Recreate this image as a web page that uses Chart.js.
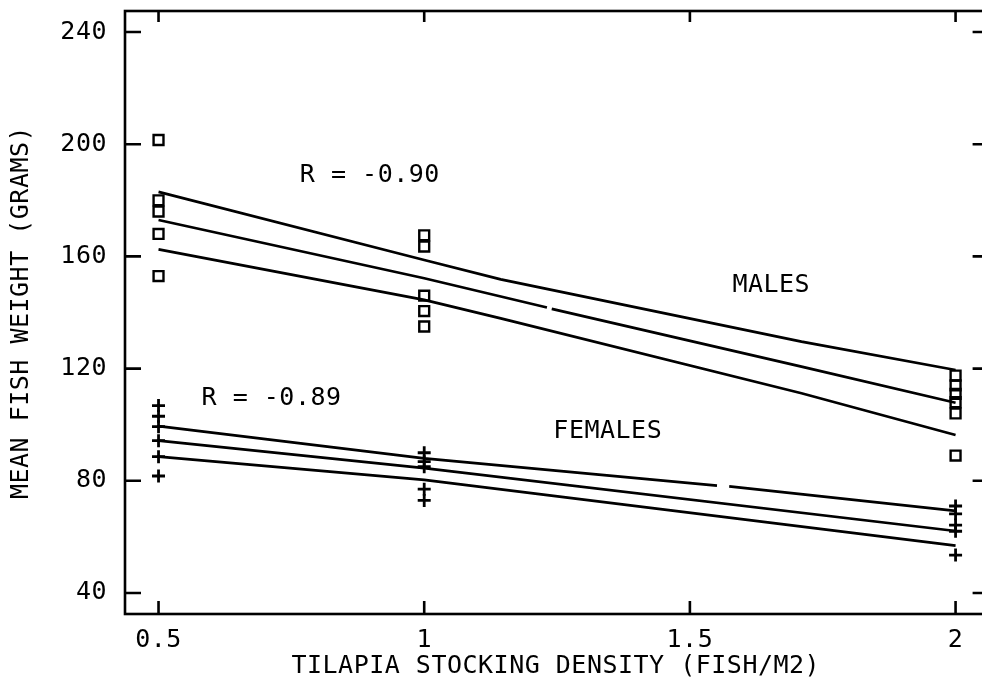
<!DOCTYPE html>
<html>
<head>
<meta charset="utf-8">
<title>Tilapia stocking density vs mean fish weight</title>
<script src="https://cdn.jsdelivr.net/npm/chart.js@4/dist/chart.umd.min.js"></script>
<style>
  html, body { margin: 0; padding: 0; background: #fff; overflow: hidden; }
  #c { display: block; }
</style>
</head>
<body>
<canvas id="c" width="996" height="687"></canvas>
<script>
// Axis ticks
const xTicks = [0.5, 1, 1.5, 2];
const yTicks = [40, 80, 120, 160, 200, 240];

// Observed pond means (grams) by stocking density (fish/m2)
const maleDensity   = [0.5, 0.5, 0.5, 0.5, 0.5, 1, 1, 1, 1, 1, 2, 2, 2, 2, 2, 2];
const maleWeight    = [201.5, 180, 176, 168, 153, 167.5, 163.5, 146, 140.5, 135, 117.5, 114, 111, 108, 104, 89];
const femaleDensity = [0.5, 0.5, 0.5, 0.5, 0.5, 0.5, 1, 1, 1, 1, 1, 2, 2, 2, 2, 2];
const femaleWeight  = [106.8, 103, 99.3, 94.3, 88.6, 81.7, 90, 86.8, 85, 77, 73, 71, 68.2, 64.2, 62, 53.5];

// Regression lines with their confidence bands (null = pen lift)
const maleUpperX = [0.5, 1, 1.144, 1.71, 2];
const maleUpperY = [183, 158.7, 151.8, 129.6, 119.5];
const maleFitX   = [0.5, 1, 1.231, 1.235, 1.24, 1.71, 2];
const maleFitY   = [173, 152.2, 141.8, null, 141.3, 120.7, 107.8];
const maleLowerX = [0.5, 1, 1.144, 1.71, 2];
const maleLowerY = [162.5, 144.5, 137.9, 111.2, 96.3];

const femaleUpperX = [0.5, 1, 1.551, 1.56, 1.574, 2];
const femaleUpperY = [99.5, 88, 78.3, null, 78.0, 69.3];
const femaleFitX   = [0.5, 1, 2];
const femaleFitY   = [94.3, 84.5, 62.1];
const femaleLowerX = [0.5, 1, 2];
const femaleLowerY = [88.6, 80.3, 56.9];

// Text notes placed in data coordinates
const noteText = ['R = -0.90', 'MALES', 'R = -0.89', 'FEMALES'];
const noteX    = [0.766, 1.58, 0.581, 1.243];
const noteY    = [189, 149.8, 109.5, 97.5];

const FONT = 'DejaVu Sans Mono';
const INK = '#000';

const pts = (xs, ys) => xs.map((x, i) => ({ x: x, y: ys[i] }));

function lineSet(xs, ys) {
  return {
    type: 'line',
    data: pts(xs, ys),
    borderColor: INK,
    borderWidth: 2.7,
    pointRadius: 0,
    fill: false,
    spanGaps: false,
    tension: 0
  };
}

// Letter spacing for the plotter-style lettering
const spacing = {
  id: 'spacing',
  beforeLayout(chart) { chart.ctx.letterSpacing = '0.5px'; },
  beforeDraw(chart) { chart.ctx.letterSpacing = '0.5px'; }
};

// Closed frame with inward tick marks on all four sides
const frame = {
  id: 'frame',
  afterDatasetsDraw(chart) {
    const { ctx, chartArea: a, scales } = chart;
    ctx.save();
    ctx.strokeStyle = INK;
    ctx.lineWidth = 2.6;
    ctx.strokeRect(a.left, a.top, a.right - a.left, a.bottom - a.top);
    ctx.beginPath();
    xTicks.forEach(v => {
      const px = scales.x.getPixelForValue(v);
      ctx.moveTo(px, a.bottom); ctx.lineTo(px, a.bottom - 13);
      ctx.moveTo(px, a.top);    ctx.lineTo(px, a.top + 11);
    });
    yTicks.forEach(v => {
      const py = scales.y.getPixelForValue(v);
      ctx.moveTo(a.left, py);  ctx.lineTo(a.left + 16, py);
      ctx.moveTo(a.right, py); ctx.lineTo(a.right - 14, py);
    });
    ctx.stroke();

    ctx.fillStyle = INK;
    ctx.font = '25px "' + FONT + '"';
    ctx.textAlign = 'left';
    ctx.textBaseline = 'middle';
    noteText.forEach((t, i) => {
      ctx.fillText(t, scales.x.getPixelForValue(noteX[i]), scales.y.getPixelForValue(noteY[i]));
    });
    ctx.restore();
  }
};

new Chart(document.getElementById('c'), {
  type: 'scatter',
  data: {
    datasets: [
      lineSet(maleUpperX, maleUpperY),
      lineSet(maleFitX, maleFitY),
      lineSet(maleLowerX, maleLowerY),
      lineSet(femaleUpperX, femaleUpperY),
      lineSet(femaleFitX, femaleFitY),
      lineSet(femaleLowerX, femaleLowerY),
      {
        label: 'MALES',
        data: pts(maleDensity, maleWeight),
        pointStyle: 'rect',
        pointRadius: 7,
        borderColor: INK,
        backgroundColor: 'rgba(0,0,0,0)',
        borderWidth: 2.4
      },
      {
        label: 'FEMALES',
        data: pts(femaleDensity, femaleWeight),
        pointStyle: 'cross',
        pointRadius: 6.5,
        borderColor: INK,
        borderWidth: 2.8
      }
    ]
  },
  options: {
    responsive: false,
    animation: false,
    devicePixelRatio: 1,
    layout: { padding: { top: 11, right: 0, left: 0, bottom: 0 } },
    plugins: { legend: { display: false }, tooltip: { enabled: false } },
    scales: {
      x: {
        type: 'linear',
        min: 0.4369,
        max: 2.0584,
        grid: { display: false, drawTicks: false },
        border: { display: false },
        afterBuildTicks: s => { s.ticks = xTicks.map(v => ({ value: v })); },
        afterFit: s => { s.height = 73; s.paddingLeft = 0; s.paddingRight = 0; },
        ticks: {
          color: INK,
          font: { family: FONT, size: 25 },
          padding: 11,
          maxRotation: 0,
          autoSkip: false,
          callback: v => String(v)
        },
        title: {
          display: true,
          text: 'TILAPIA STOCKING DENSITY (FISH/M2)',
          color: INK,
          font: { family: FONT, size: 25 },
          padding: { top: 0, bottom: 6 }
        }
      },
      y: {
        type: 'linear',
        min: 32.5,
        max: 247.5,
        grid: { display: false, drawTicks: false },
        border: { display: false },
        afterBuildTicks: s => { s.ticks = yTicks.map(v => ({ value: v })); },
        afterFit: s => { s.width = 125; s.paddingTop = 0; s.paddingBottom = 0; },
        ticks: {
          color: INK,
          font: { family: FONT, size: 25 },
          padding: 18,
          autoSkip: false,
          callback: v => String(v)
        },
        title: {
          display: true,
          text: 'MEAN FISH WEIGHT (GRAMS)',
          color: INK,
          font: { family: FONT, size: 25 },
          padding: { top: 6, bottom: 0 }
        }
      }
    }
  },
  plugins: [spacing, frame]
});
</script>
</body>
</html>
